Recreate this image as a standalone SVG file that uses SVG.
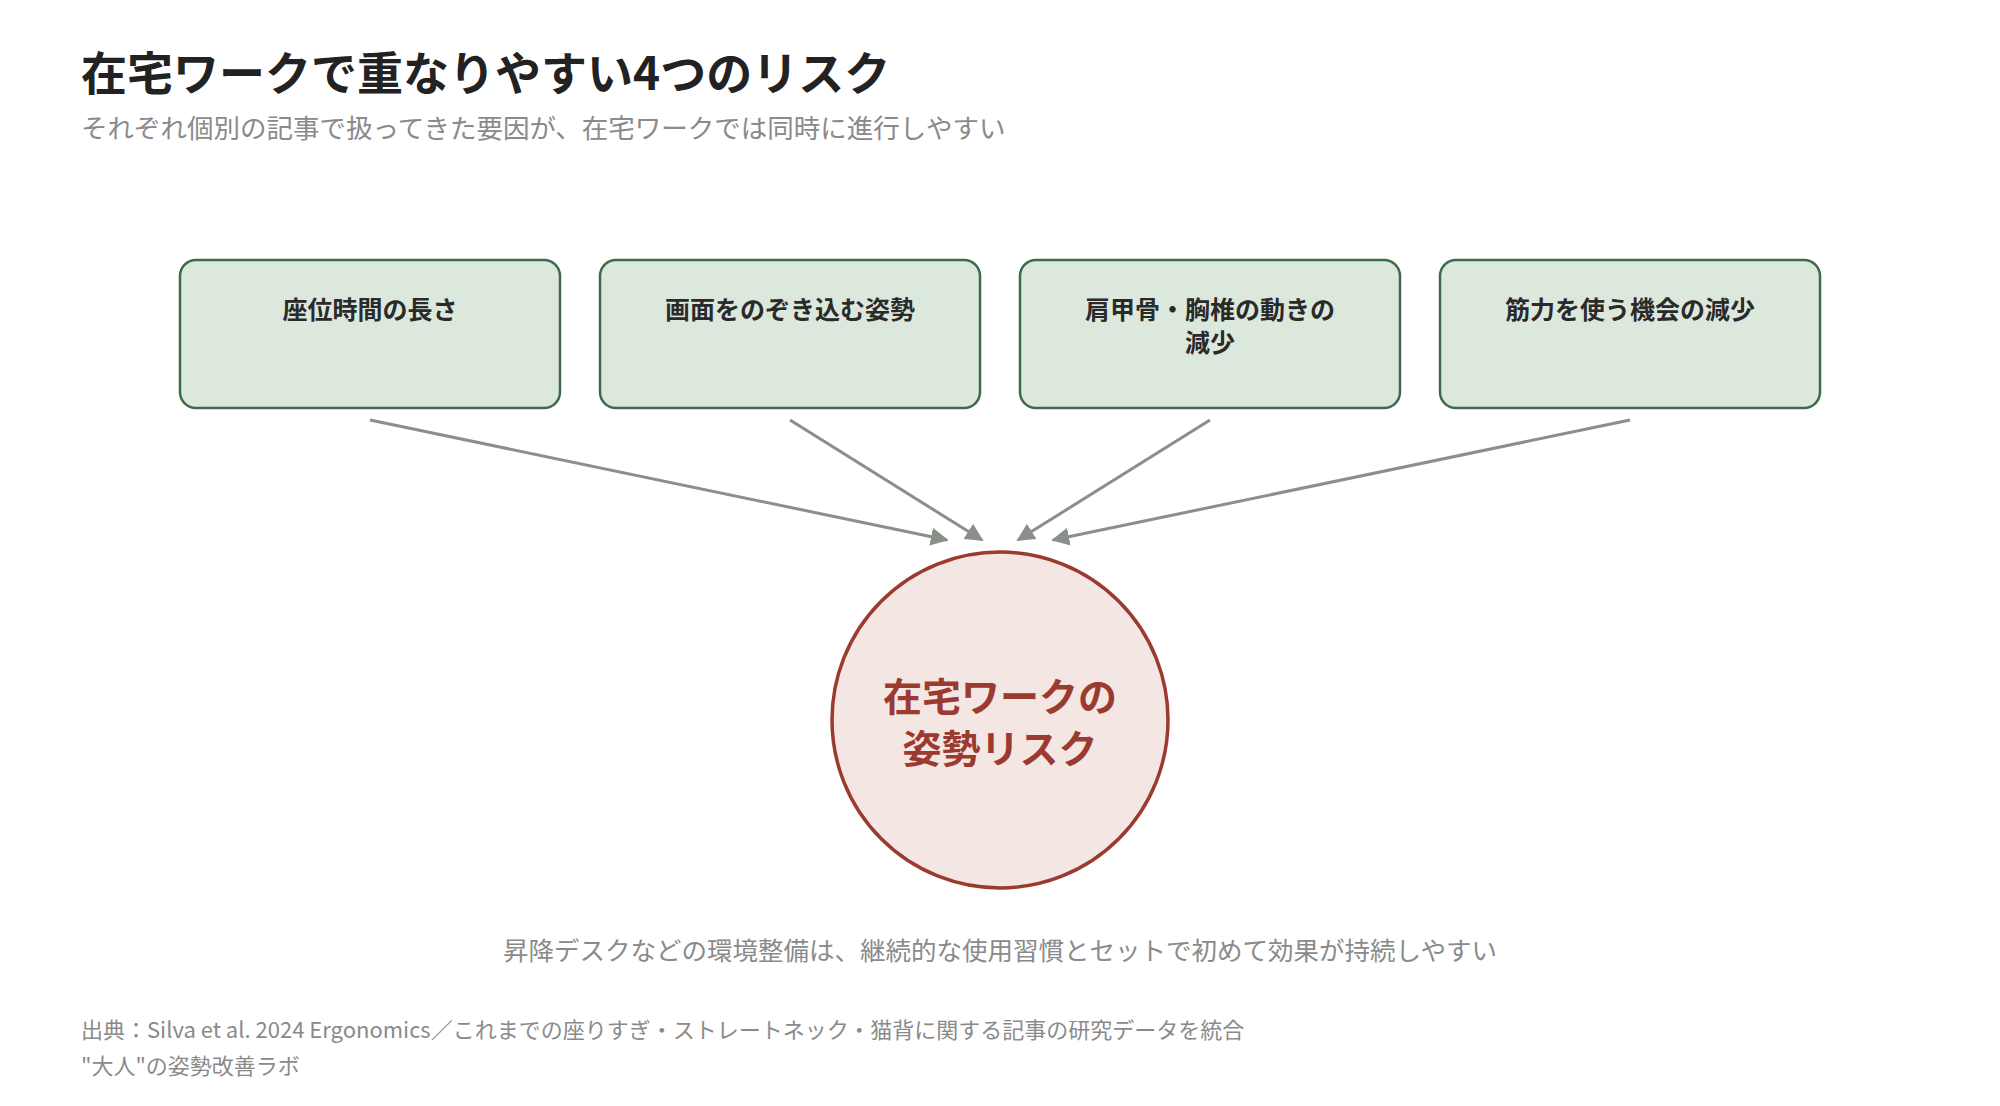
<svg xmlns="http://www.w3.org/2000/svg" width="2000" height="1106" viewBox="0 0 2000 1106">
<style>
text{font-family:"Noto Sans CJK JP","Noto Sans",sans-serif}
.box{fill:#dce8dc;stroke:#3f6a4c;stroke-width:2.5}
.bt{font-size:25px;font-weight:bold;fill:#2a2a2a;text-anchor:middle}
.ar{stroke:#8a8f8a;stroke-width:3;fill:none;marker-end:url(#ah)}
.gray{fill:#8a8a8a}
</style>
<defs><marker id="ah" viewBox="0 0 10 10" refX="9" refY="5" markerWidth="6" markerHeight="6" orient="auto"><path d="M0,0L10,5L0,10z" fill="#8a8f8a"/></marker></defs>
<rect width="2000" height="1106" fill="#fff"/>
<text x="81" y="90" font-size="46" font-weight="bold" fill="#222">在宅ワークで重なりやすい4つのリスク</text>
<text x="81" y="138" font-size="26.5" class="gray">それぞれ個別の記事で扱ってきた要因が、在宅ワークでは同時に進行しやすい</text>
<g id="connectors">
<line class="ar" x1="370" y1="420" x2="947" y2="540"/>
<line class="ar" x1="790" y1="420" x2="982" y2="540"/>
<line class="ar" x1="1210" y1="420" x2="1018" y2="540"/>
<line class="ar" x1="1630" y1="420" x2="1053" y2="540"/>
</g>
<g id="n1"><rect class="box" x="180" y="260" width="380" height="148" rx="16"/><text class="bt" x="370" y="319">座位時間の長さ</text></g>
<g id="n2"><rect class="box" x="600" y="260" width="380" height="148" rx="16"/><text class="bt" x="790" y="319">画面をのぞき込む姿勢</text></g>
<g id="n3"><rect class="box" x="1020" y="260" width="380" height="148" rx="16"/><text class="bt" x="1210" y="319">肩甲骨・胸椎の動きの</text><text class="bt" x="1210" y="352">減少</text></g>
<g id="n4"><rect class="box" x="1440" y="260" width="380" height="148" rx="16"/><text class="bt" x="1630" y="319">筋力を使う機会の減少</text></g>
<g id="center"><circle cx="1000" cy="720" r="168" fill="#f3e6e3" stroke="#9b3a2f" stroke-width="3.5"/>
<text x="1000" y="711" font-size="39" font-weight="bold" fill="#9b3a2f" text-anchor="middle">在宅ワークの</text>
<text x="1000" y="763" font-size="39" font-weight="bold" fill="#9b3a2f" text-anchor="middle">姿勢リスク</text></g>
<text x="1000" y="960" font-size="25.5" class="gray" text-anchor="middle">昇降デスクなどの環境整備は、継続的な使用習慣とセットで初めて効果が持続しやすい</text>
<text x="81" y="1038" font-size="22" class="gray">出典：Silva et al. 2024 Ergonomics／これまでの座りすぎ・ストレートネック・猫背に関する記事の研究データを統合</text>
<text x="81" y="1074" font-size="22" class="gray">"大人"の姿勢改善ラボ</text>
</svg>
